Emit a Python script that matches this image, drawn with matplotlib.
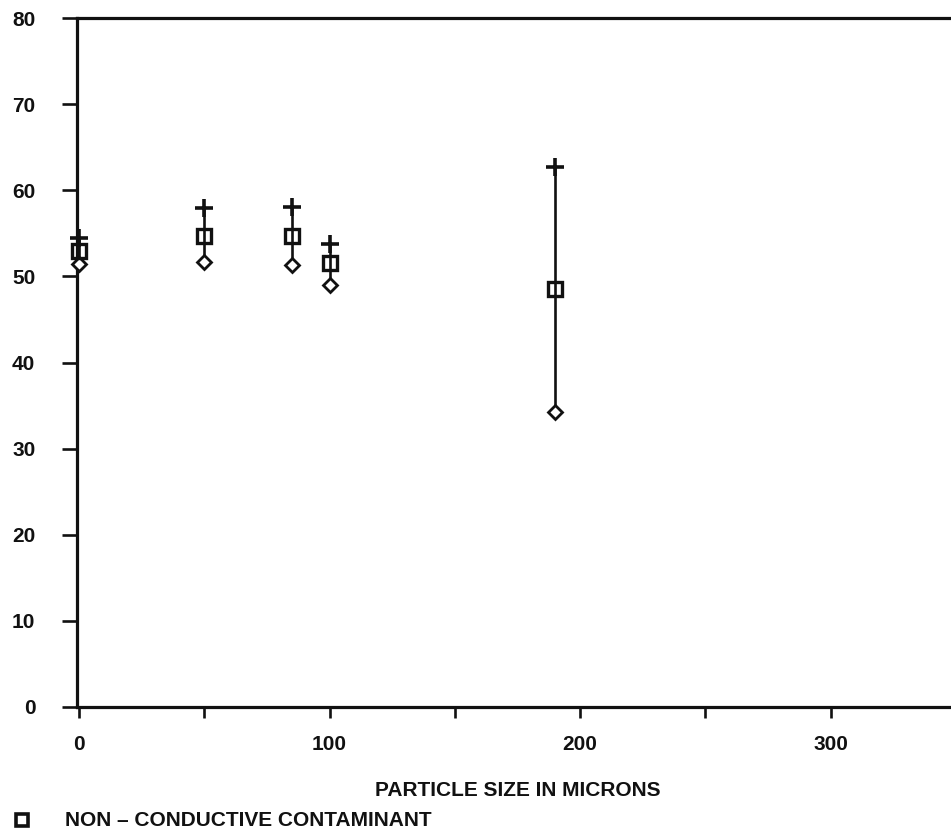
import matplotlib.pyplot as plt
from matplotlib.ticker import MultipleLocator

plt.rcParams['font.family'] = ['Liberation Sans', 'DejaVu Sans']
plt.rcParams['font.weight'] = 'bold'

# particle size (microns) and readings: mean (square), max (plus), min (diamond)
sizes = [0, 50, 85, 100, 190]
mean_vals = [52.9, 54.7, 54.7, 51.6, 48.5]
max_vals = [54.5, 57.9, 58.1, 53.8, 62.7]
min_vals = [51.4, 51.7, 51.3, 49.0, 34.2]

x_ticks = [0, 100, 200, 300]
y_ticks = [0, 10, 20, 30, 40, 50, 60, 70, 80]

W, H = 951, 834
fig = plt.figure(figsize=(W / 100, H / 100), dpi=100)
ax_left = 77 / W
ax_bottom = (H - 707) / H
ax_width = (956 - 77) / W
ax_height = (707 - 18) / H
ax = fig.add_axes([ax_left, ax_bottom, ax_width, ax_height])

ink = '#111111'

# range lines from min to max
ax.vlines(sizes, min_vals, max_vals, color=ink, lw=1.9, zorder=5, clip_on=False)
ax.plot(sizes, max_vals, ls='none', marker='+', ms=13, mew=2.6, color=ink,
        zorder=6, clip_on=False)
ax.plot(sizes, min_vals, ls='none', marker='D', ms=7.5, mew=2.0, mfc='white', mec=ink,
        zorder=6, clip_on=False)
ax.plot(sizes, mean_vals, ls='none', marker='s', ms=10.5, mew=2.4, mfc='none', mec=ink,
        zorder=7, clip_on=False)

ax.set_xlim(-0.8, 350)
ax.set_ylim(0, 80)
ax.set_xticks(x_ticks)
ax.xaxis.set_minor_locator(MultipleLocator(50))
ax.set_yticks(y_ticks)

ax.spines['right'].set_visible(False)
for side in ['left', 'top', 'bottom']:
    ax.spines[side].set_linewidth(2.3)
    ax.spines[side].set_color(ink)

ax.tick_params(axis='y', direction='out', length=11, width=1.9, pad=19,
               labelsize=15, colors=ink)
ax.tick_params(axis='x', which='both', direction='out', length=8, width=1.9,
               pad=12, labelsize=15, colors=ink)
ax.tick_params(axis='x', which='minor', labelbottom=False)
ax.tick_params(axis='x', top=False)

for lab in ax.get_xticklabels() + ax.get_yticklabels():
    lab.set_fontweight('bold')

fig.text(518 / W, 1 - 790 / H, 'PARTICLE SIZE IN MICRONS', ha='center', va='center',
         fontsize=15, fontweight='bold', color=ink)
ax.plot([22 / W], [1 - 820 / H], ls='none', marker='s', ms=9, mew=2.6, mfc='none',
        mec=ink, transform=fig.transFigure, clip_on=False)
fig.text(65 / W, 1 - 820 / H, 'NON \u2013 CONDUCTIVE CONTAMINANT', ha='left', va='center',
         fontsize=15, fontweight='bold', color=ink)

fig.savefig('out.png', dpi=100)
